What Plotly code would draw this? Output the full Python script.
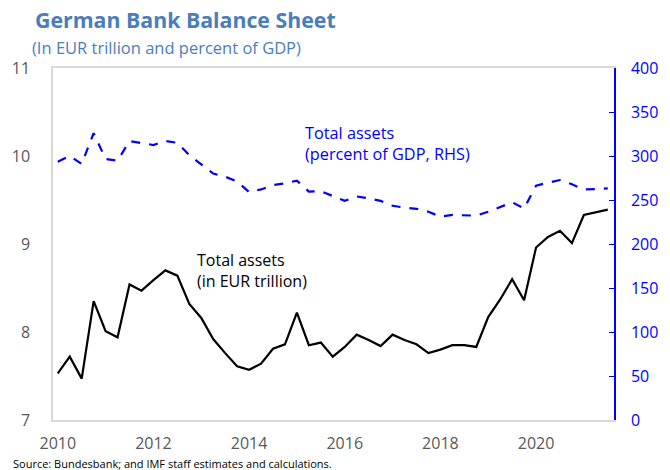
import plotly.graph_objects as go

years = [2010 + 0.25 * i for i in range(47)]

eur_trillion = [
    7.53, 7.72, 7.47, 8.35,
    8.01, 7.94, 8.54, 8.47,
    8.59, 8.70, 8.64, 8.32,
    8.16, 7.92, 7.76, 7.61,
    7.57, 7.64, 7.81, 7.86,
    8.22, 7.85, 7.88, 7.72,
    7.83, 7.97, 7.91, 7.84,
    7.97, 7.91, 7.86, 7.76,
    7.80, 7.85, 7.85, 7.83,
    8.17, 8.37, 8.60, 8.36,
    8.96, 9.08, 9.15, 9.01,
    9.33, 9.36, 9.39,
]

pct_gdp = [
    293.5, 300.0, 291.0, 326.0,
    296.6, 294.7, 317.0, 314.4,
    312.5, 317.0, 315.0, 301.0,
    290.0, 280.0, 276.5, 271.0,
    259.0, 262.0, 267.0, 269.0,
    272.0, 259.5, 260.0, 254.5,
    249.0, 254.0, 252.0, 249.0,
    243.5, 241.3, 240.0, 236.7,
    231.0, 233.0, 232.6, 232.2,
    236.7, 242.4, 247.4, 240.5,
    266.3, 269.7, 272.7, 267.8,
    262.0, 262.5, 263.3,
]

x_ticks = [2010, 2012, 2014, 2016, 2018, 2020]
left_ticks = [7, 8, 9, 10, 11]
right_ticks = [0, 50, 100, 150, 200, 250, 300, 350, 400]

FONT = "Open Sans, Noto Sans, sans-serif"
BLUE = "#0000FF"
TITLE_BLUE = "#4A7EBB"
GRAY = "#595959"

fig = go.Figure()
fig.add_trace(go.Scatter(x=years, y=eur_trillion, mode="lines",
                         line=dict(color="black", width=2.2), yaxis="y", showlegend=False))
fig.add_trace(go.Scatter(x=years, y=pct_gdp, mode="lines",
                         line=dict(color=BLUE, width=2.2, dash="dash"), yaxis="y2", showlegend=False))

fig.update_layout(
    width=670, height=470,
    margin=dict(l=45, r=48, t=68, b=50),
    paper_bgcolor="white", plot_bgcolor="white",
    font=dict(family=FONT),
    xaxis=dict(range=[2009.9, 2021.63], tickvals=x_ticks, ticktext=[str(t) for t in x_ticks],
               showgrid=False, zeroline=False, showline=True, linecolor="#D9D9D9", linewidth=1.5,
               mirror=True, ticks="", ticklabelstandoff=8,
               tickfont=dict(size=16, color=GRAY, family=FONT)),
    yaxis=dict(range=[7, 11], tickvals=left_ticks, showgrid=False, zeroline=False,
               showline=True, linecolor="#D9D9D9", linewidth=1.5, ticks="",
               ticklabelstandoff=18,
               tickfont=dict(size=16, color=GRAY, family=FONT)),
    yaxis2=dict(range=[0, 400], tickvals=right_ticks, overlaying="y", side="right",
                showgrid=False, zeroline=False, showline=True, linecolor=BLUE, linewidth=1.5,
                ticks="inside", ticklen=5, tickcolor=BLUE, ticklabelstandoff=12,
                tickfont=dict(size=16, color=BLUE, family=FONT)),
)

# Title and subtitle
fig.add_annotation(xref="paper", yref="paper", x=(24 - 45) / 577, y=(420 - 20) / 352,
                   xanchor="left", yanchor="middle", showarrow=False,
                   text="<b>German Bank Balance Sheet</b>",
                   font=dict(size=21.3, color=TITLE_BLUE, family=FONT))
fig.add_annotation(xref="paper", yref="paper", x=(21 - 45) / 577, y=(420 - 47) / 352,
                   xanchor="left", yanchor="middle", showarrow=False,
                   text="(In EUR trillion and percent of GDP)",
                   font=dict(size=16.5, color=TITLE_BLUE, family=FONT))
# Source
fig.add_annotation(xref="paper", yref="paper", x=(2 - 45) / 577, y=(420 - 463) / 352,
                   xanchor="left", yanchor="middle", showarrow=False,
                   text="Source: Bundesbank; and IMF staff estimates and calculations.",
                   font=dict(size=11, color="black", family=FONT))

# Series labels
fig.add_annotation(x=2012.86, y=8.70, xref="x", yref="y", xanchor="left", yanchor="middle",
                   showarrow=False, align="left",
                   text="Total assets<br>(in EUR trillion)",
                   font=dict(size=16, color="black", family=FONT))
fig.add_annotation(x=2015.12, y=10.14, xref="x", yref="y", xanchor="left", yanchor="middle",
                   showarrow=False, align="left",
                   text="Total assets<br>(percent of GDP, RHS)",
                   font=dict(size=16.3, color=BLUE, family=FONT))

fig.write_html("out.html", post_script="document.body.style.margin='0px';",
               config={"displayModeBar": False})
